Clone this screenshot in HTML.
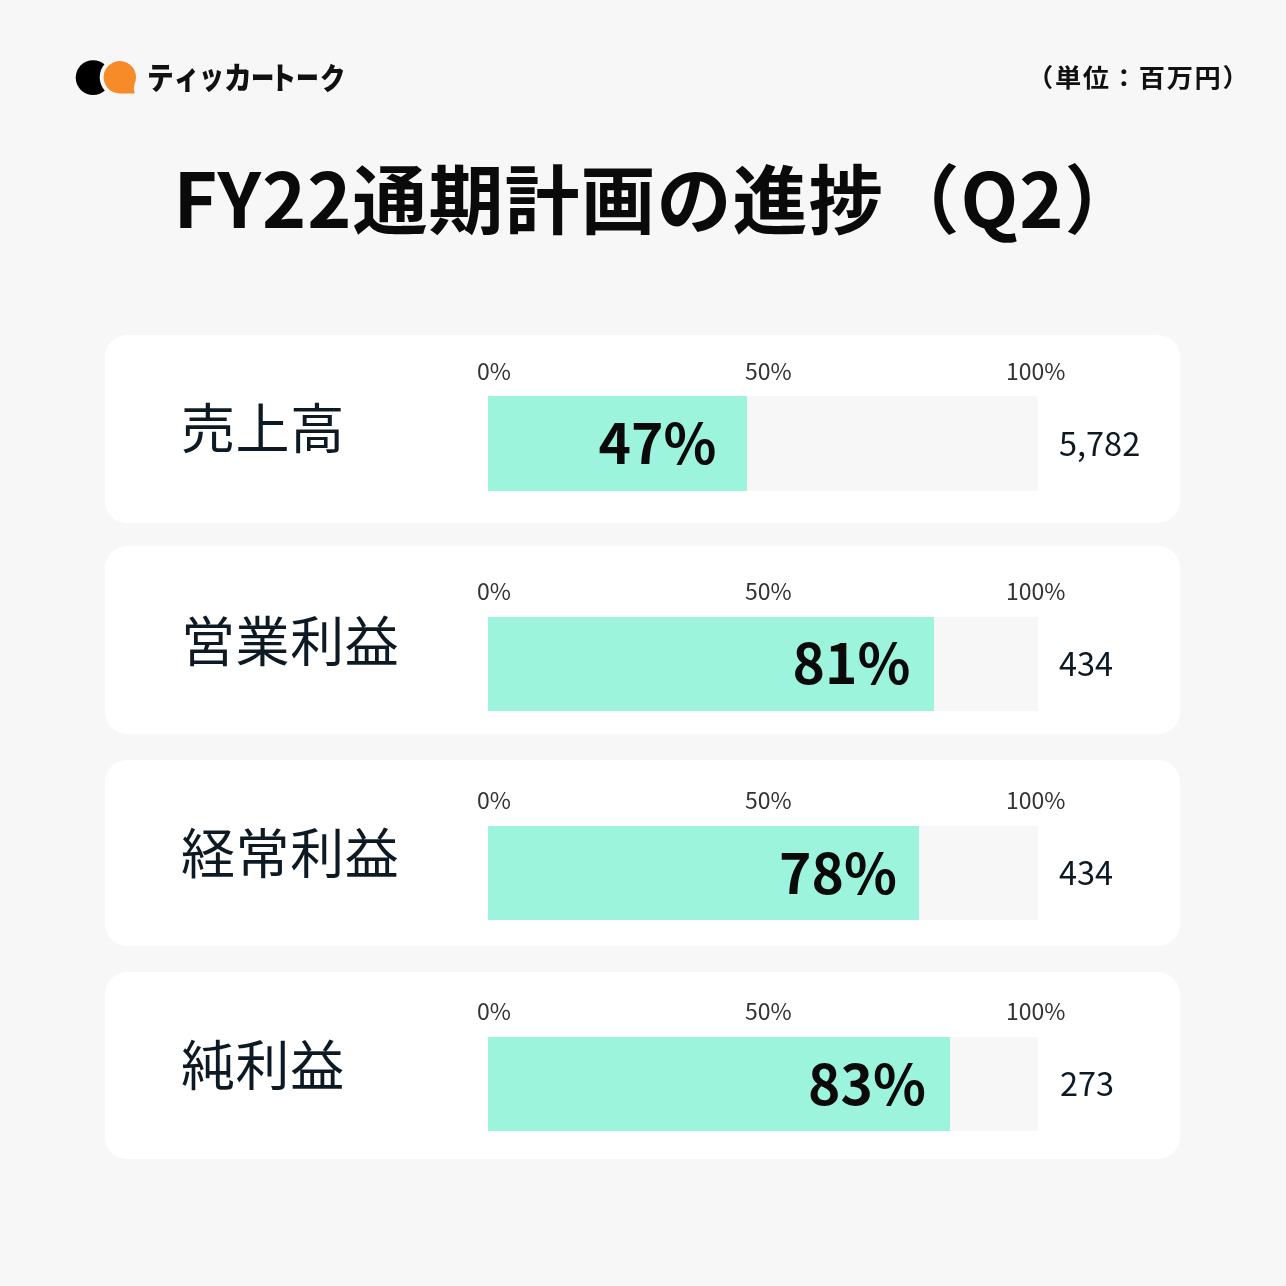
<!DOCTYPE html>
<html lang="ja">
<head>
<meta charset="utf-8">
<title>FY22通期計画の進捗（Q2）</title>
<style>
html,body{margin:0;padding:0;}
body{width:1286px;height:1286px;background:#f7f7f7;position:relative;overflow:hidden;
  font-family:"Noto Sans CJK JP","Liberation Sans",sans-serif;color:#111;}
#wrap{position:absolute;left:0;top:0;width:1286px;height:1286px;will-change:transform;}
.abs{position:absolute;white-space:nowrap;line-height:1;}
.logo{position:absolute;left:0;top:0;width:160px;height:110px;}
.brand{position:absolute;left:0;top:0;}
.bc{position:absolute;top:60.6px;font-size:30.5px;line-height:1;font-weight:900;color:#111;transform-origin:0 30.5px;white-space:nowrap;}
.unit{left:1027px;top:63.5px;font-size:25px;font-weight:700;color:#111;letter-spacing:1.6px;transform:scaleX(1.05);transform-origin:0 0;}
.title{left:173.5px;top:158.3px;font-size:75px;font-weight:700;color:#0a0a0a;letter-spacing:1px;}
.card{position:absolute;left:105px;width:1075px;background:#fff;border-radius:22px;}
.lbl{font-size:54px;font-weight:400;letter-spacing:0.6px;color:#0d1a24;}
.tick{font-size:23px;font-weight:400;color:#333;}
.track{position:absolute;left:488px;width:550px;background:#f7f7f7;}
.fill{position:absolute;left:0;top:0;bottom:0;background:#9cf4dc;}
.pct{font-size:55px;font-weight:700;color:#0a0a0a;}
.val{font-size:32.5px;font-weight:400;color:#0d1a24;}
</style>
</head>
<body>
<div id="wrap">
<svg class="logo" viewBox="0 0 160 110">
  <defs>
    <mask id="cut" maskUnits="userSpaceOnUse" x="0" y="0" width="160" height="110">
      <rect x="0" y="0" width="160" height="110" fill="#fff"/>
      <circle cx="119.8" cy="77.3" r="20.1" fill="#000"/>
    </mask>
  </defs>
  <circle cx="93.1" cy="77.6" r="17.4" fill="#000" mask="url(#cut)"/>
  <path d="M134.55 84 A16.2 16.2 0 1 0 119.8 93.5 L134.7 93.6 L133.8 88.6 Z" fill="#f68b27"/>
</svg>
<div class="brand"><span class="bc" style="left:146.6px;transform:scale(0.874,1);">テ</span><span class="bc" style="left:173.9px;transform:scale(0.836,1.05);">ィ</span><span class="bc" style="left:198.8px;transform:scale(0.817,1.07);">ッ</span><span class="bc" style="left:223.8px;transform:scale(0.917,1);">カ</span><span class="bc" style="left:251.1px;transform:scale(0.764,1);">ー</span><span class="bc" style="left:269.9px;transform:scale(0.861,1.02);">ト</span><span class="bc" style="left:295.9px;transform:scale(0.748,1);">ー</span><span class="bc" style="left:319.6px;transform:scale(0.835,0.97);">ク</span></div>
<div class="abs unit">（単位：百万円）</div>
<div class="abs title">FY22通期計画の進捗（Q2）</div>

<div class="card" style="top:335px;height:188px;"></div>
<div class="card" style="top:546px;height:188px;"></div>
<div class="card" style="top:760px;height:186px;"></div>
<div class="card" style="top:972px;height:187px;"></div>

<!-- card 1 -->
<div class="abs lbl" style="left:181px;top:399px;">売上高</div>
<div class="abs tick" style="left:477px;top:359px;">0%</div>
<div class="abs tick" style="left:745px;top:359px;">50%</div>
<div class="abs tick" style="left:1006px;top:359px;">100%</div>
<div class="track" style="top:396px;height:95px;"><div class="fill" style="width:258.5px;"></div></div>
<div class="abs pct" style="left:598.5px;top:413px;">47%</div>
<div class="abs val" style="left:1059px;top:426px;">5,782</div>

<!-- card 2 -->
<div class="abs lbl" style="left:181px;top:612px;">営業利益</div>
<div class="abs tick" style="left:477px;top:579px;">0%</div>
<div class="abs tick" style="left:745px;top:579px;">50%</div>
<div class="abs tick" style="left:1006px;top:579px;">100%</div>
<div class="track" style="top:617px;height:94px;"><div class="fill" style="width:445.5px;"></div></div>
<div class="abs pct" style="left:792.5px;top:633px;">81%</div>
<div class="abs val" style="left:1059px;top:646px;">434</div>

<!-- card 3 -->
<div class="abs lbl" style="left:181px;top:824px;">経常利益</div>
<div class="abs tick" style="left:477px;top:788px;">0%</div>
<div class="abs tick" style="left:745px;top:788px;">50%</div>
<div class="abs tick" style="left:1006px;top:788px;">100%</div>
<div class="track" style="top:826px;height:94px;"><div class="fill" style="width:430.5px;"></div></div>
<div class="abs pct" style="left:779px;top:842.5px;">78%</div>
<div class="abs val" style="left:1059px;top:855px;">434</div>

<!-- card 4 -->
<div class="abs lbl" style="left:181px;top:1036px;">純利益</div>
<div class="abs tick" style="left:477px;top:999px;">0%</div>
<div class="abs tick" style="left:745px;top:999px;">50%</div>
<div class="abs tick" style="left:1006px;top:999px;">100%</div>
<div class="track" style="top:1037px;height:94px;"><div class="fill" style="width:462px;"></div></div>
<div class="abs pct" style="left:808px;top:1054px;">83%</div>
<div class="abs val" style="left:1060px;top:1066px;">273</div>
</div>
</body>
</html>
